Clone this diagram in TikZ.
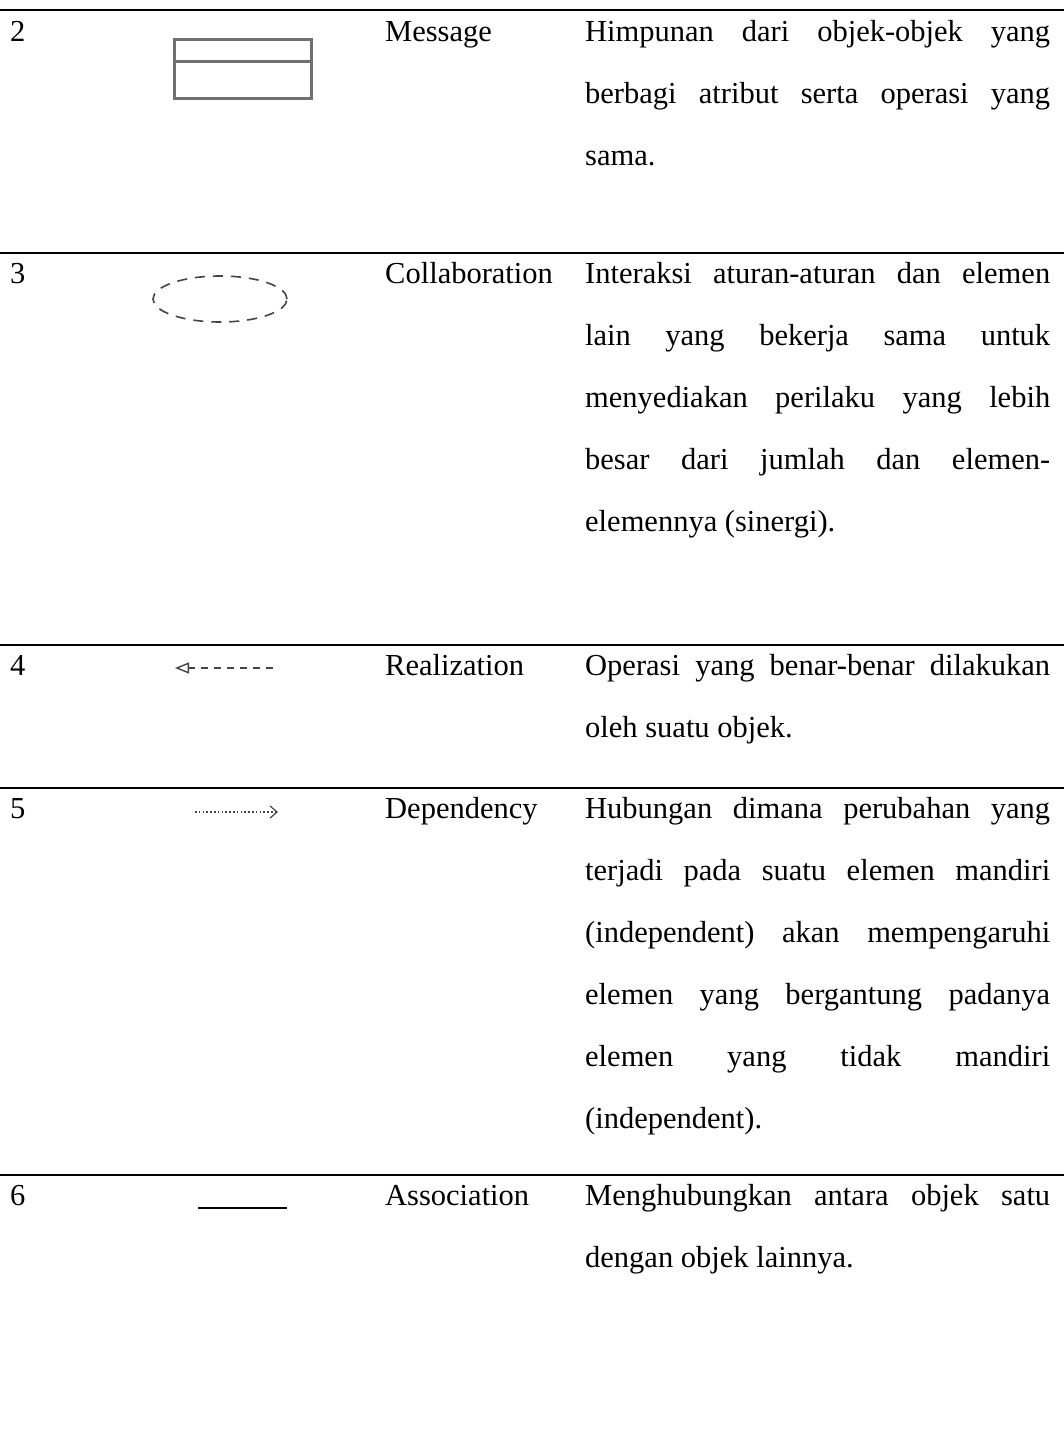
\documentclass[tikz,border=0pt]{standalone}
\usepackage{fontspec}
\setmainfont{Liberation Serif}
\usetikzlibrary{shapes.geometric,arrows.meta}

\definecolor{symgray}{HTML}{707070}
\definecolor{dashgray}{HTML}{444444}

% one line of table text; justified lines are stretched to the column width
\newcommand\cellline[4][]{\node[txt,#1] (#2) at (585,#3) {#4};}
\newcommand\fullline[3]{\node[txt] (#1) at (585,#2) {\makebox[465pt][s]{#3}};}

\begin{document}
\begin{tikzpicture}[x=1pt,y=-1pt,
  txt/.style={anchor=base west,inner sep=0pt,font=\fontsize{30.5}{62}\selectfont},
  rule/.style={line width=2.6pt,black},
  boxsym/.style={draw=symgray,line width=3pt,minimum width=137pt,minimum height=59pt,inner sep=0pt},
  ellsym/.style={ellipse,draw=dashgray,line width=1.6pt,dash pattern=on 10pt off 8pt,minimum width=134pt,minimum height=46pt,inner sep=0pt}]
\useasboundingbox (0,0) rectangle (1064,1438);

% horizontal rules between rows
\draw[rule] (0,10) -- (1064,10);
\draw[rule] (0,253) -- (1064,253);
\draw[rule] (0,645) -- (1064,645);
\draw[rule] (0,788) -- (1064,788);
\draw[rule] (0,1175) -- (1064,1175);

% row 2 : Message
\node[txt] (n2) at (10,41) {2};
\node[boxsym] (msg) at (242.5,68.5) {};
\draw[draw=symgray,line width=3pt] (msg.west |- 0,61) -- (msg.east |- 0,61);
\node[txt] (name2) at (385,41) {Message};
\fullline{d2a}{41}{Himpunan dari objek-objek yang}
\fullline{d2b}{103}{berbagi atribut serta operasi yang}
\cellline{d2c}{165}{sama.}

% row 3 : Collaboration
\node[txt] (n3) at (10,283) {3};
\node[ellsym] (collab) at (220,299) {};
\node[txt] (name3) at (385,283) {Collaboration};
\fullline{d3a}{283}{Interaksi aturan-aturan dan elemen}
\fullline{d3b}{345}{lain yang bekerja sama untuk}
\fullline{d3c}{407}{menyediakan perilaku yang lebih}
\fullline{d3d}{469}{besar dari jumlah dan elemen-}
\cellline{d3e}{531}{elemennya (sinergi).}

% row 4 : Realization
\node[txt] (n4) at (10,675) {4};
\coordinate (realA) at (175,668);
\coordinate (realB) at (273,668);
\draw[dashgray,line width=1.3pt,dash pattern=on 7pt off 6pt,
      -{Triangle[open,length=14pt,width=11pt,line width=1.4pt]}] (realB) -- (realA);
\node[txt] (name4) at (385,675) {Realization};
\fullline{d4a}{675}{Operasi yang benar-benar dilakukan}
\cellline{d4b}{737}{oleh suatu objek.}

% row 5 : Dependency
\node[txt] (n5) at (10,818) {5};
\coordinate (depA) at (195,812);
\coordinate (depB) at (278,812);
\draw[dashgray,line width=1.2pt,dash pattern=on 1.6pt off 2.2pt,
      -{Straight Barb[length=7pt,width=12pt,line width=1.2pt]}] (depA) -- (depB);
\node[txt] (name5) at (385,818) {Dependency};
\fullline{d5a}{818}{Hubungan dimana perubahan yang}
\fullline{d5b}{880}{terjadi pada suatu elemen mandiri}
\fullline{d5c}{942}{(independent) akan mempengaruhi}
\fullline{d5d}{1004}{elemen yang bergantung padanya}
\fullline{d5e}{1066}{elemen yang tidak mandiri}
\cellline{d5f}{1128}{(independent).}

% row 6 : Association
\node[txt] (n6) at (10,1205) {6};
\coordinate (assA) at (198,1208);
\coordinate (assB) at (287,1208);
\draw[line width=2pt] (assA) -- (assB);
\node[txt] (name6) at (385,1205) {Association};
\fullline{d6a}{1205}{Menghubungkan antara objek satu}
\cellline{d6b}{1267}{dengan objek lainnya.}
\end{tikzpicture}
\end{document}
